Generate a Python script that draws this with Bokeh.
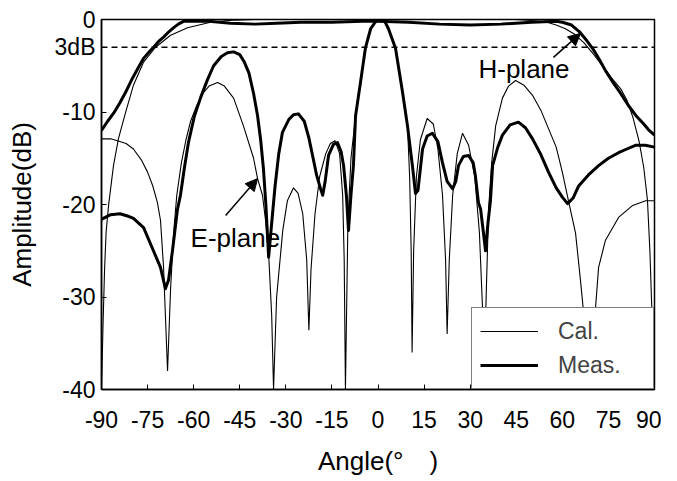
from bokeh.plotting import figure
from bokeh.models import Range1d, FixedTicker, Legend, LegendItem, Arrow, NormalHead, Span
from bokeh.core.properties import value
from bokeh.embed import file_html
from bokeh.resources import INLINE

# ---- data ----
x_ticks = [-90, -75, -60, -45, -30, -15, 0, 15, 30, 45, 60, 75, 90]
y_ticks = [0, -3, -10, -20, -30, -40]
y_tick_labels = ["0", "3dB", "-10", "-20", "-30", "-40"]

e_cal_ang = [-90, -87, -84.8, -82, -79.6, -77, -75, -73.3, -71.8, -70.8, -69.8, -68.5, -67.5, -66.5,
             -65.5, -64, -62.5, -61, -59, -57, -55, -52.2, -50, -47, -43.8, -40.5, -39.2, -37.6,
             -36.5, -35.5, -34.6, -34, -33, -31, -29.5, -27.5, -26, -24.5, -23.2, -22.5, -21.8,
             -20.5, -19, -17, -15.5, -14, -12.5, -11.5, -11, -10.6, -9.8, -8.8, -7.3, -5.7, -4.1,
             -2.4, -0.5, 0.8, 2, 3.4, 5.7, 8, 9.6, 10.3, 10.8, 11.1, 11.6, 12.5, 13.8, 16, 18,
             19.5, 21, 22, 22.5, 23.2, 24.3, 25.8, 27.5, 29.5, 31.5, 33, 34, 34.5, 35.2, 36, 37,
             38.3, 40.5, 42.5, 44.8, 47.5, 50.3, 53, 55.5, 58, 60, 62, 64.3, 66, 67.3, 69, 70.8,
             71.8, 74, 78.3, 82.9, 87.1, 90]
e_cal_db = [-12.9, -12.9, -13.1, -13.4, -14, -15.2, -16.5, -18, -19.8, -21.7, -26.8, -38, -29, -23,
            -19, -15.5, -13, -11, -9.3, -8, -7.2, -6.8, -7.2, -8.5, -11.5, -15, -17.2, -19,
            -22, -26, -32, -40, -30, -22.8, -19.6, -18.2, -18.8, -21, -26, -33.6, -27,
            -21, -17, -14.5, -13.4, -13.1, -14.5, -19, -26, -40, -22, -15, -10.4, -6.8, -3.1,
            -1, -0.1, 0, -0.2, -1, -3.1, -7.9, -11.5, -17, -25, -36, -25, -17, -13, -10.7, -11.3,
            -14, -19, -26, -34, -26, -19, -14.5, -12.3, -13.6, -17, -23, -31, -40, -30, -20.5, -15.5,
            -11.5, -8.5, -7.2, -6.6, -7.1, -8.2, -9.8, -11.8, -13.8, -16.5, -19.6, -23.1, -28.5, -33, -40, -31.2,
            -26.8, -23.9, -21.4, -20.1, -19.6, -19.6]

e_meas_ang = [-90, -87, -84, -81, -79.6, -76.3, -73.1, -70.8, -69.2, -68.2, -66.9, -65.3, -64.3, -63,
              -61.7, -59.8, -57.8, -55.5, -53.5, -51, -49, -47, -45, -43.5, -42, -40.5, -39.2, -38.2,
              -37.3, -36.5, -35.6, -34.6, -33.5, -32.3, -31.1, -29, -27.5, -25.9, -24, -22.5, -21.3,
              -20, -18.7, -18, -17.2, -16.1, -14.5, -13.2, -12, -11.2, -10.3, -9.6, -8.8, -8, -7.3,
              -5.7, -4.1, -2.4, -0.5, 1, 2.2, 3.4, 5.7, 8, 9.6, 11.2, 12.2, 13, 14.5, 16, 17.7, 19.5,
              21, 22.5, 24.3, 25.3, 26.2, 27.8, 29.5, 31, 31.7, 32.7, 33.4, 34.3, 35, 35.8, 36.6, 37.3,
              39, 40.5, 43, 45.7, 48, 50.3, 53, 55.5, 58, 60, 61.7, 63.5, 65.3, 68.5, 71.8, 75, 78.3,
              81, 83.8, 87, 90]
e_meas_db = [-21.6, -21.1, -21.0, -21.3, -21.5, -22.5, -25, -26.8, -29.1, -28.2, -25, -20.6, -19, -16,
             -13.3, -10.5, -8.5, -6.5, -5, -4, -3.6, -3.5, -3.8, -4.6, -5.8, -8, -10.4, -13,
             -16.1, -20, -25.7, -22, -18, -14.5, -12.2, -10.8, -10.3, -10.2, -11, -12.8, -14.7,
             -16.8, -18.3, -19, -17.5, -14.7, -13.5, -13.3, -14.3, -15.8, -19, -22.8, -19, -15.8, -10.4,
             -6.8, -3.1, -1, -0.1, 0, -0.2, -1, -3.1, -7.9, -11.5, -15.8, -18.8, -18.5, -14, -12.6, -12.3, -13.2,
             -15.5, -17.5, -18.3, -17.5, -15.8, -14.8, -14.7, -15.5, -16.9, -19.8, -20.5, -23, -25, -22, -19.6, -15.8,
             -13.8, -12.5, -11.4, -11.1, -11.7, -12.9, -14.6, -16.5, -18.2, -19.2, -19.9, -19.3, -18, -16.8, -15.8, -15, -14.4,
             -14, -13.6, -13.6, -13.8]

h_cal_ang = [-90, -89.5, -89, -88.5, -87.7, -86.1, -84.5, -82.2, -79.6, -76.3, -72.4, -67.5, -62,
             -54.5, -49, -40, -30, -20, -10, 0, 10, 20, 30, 40, 45, 50, 55, 58, 61, 64, 67, 70, 73,
             76, 79, 81, 83, 85, 86.5, 87.7, 88.5, 89.2, 90]
h_cal_db = [-40, -33, -27, -23, -20.1, -15.8, -12.9, -10.1, -7.1, -4.6, -3.0, -1.7, -0.9,
            -0.3, -0.1, 0, 0, 0, 0, 0, 0, 0, 0, 0, 0, -0.1, -0.3, -0.6, -1.0, -1.6, -2.5, -3.7, -5.0,
            -6.3, -7.5, -8.7, -10.6, -13.2, -16, -19.5, -25, -32, -40]

h_meas_ang = [-90, -88, -86, -84, -82.2, -80, -78, -76.3, -74.5, -73, -71.5, -69.8, -68, -66.6, -65,
              -63.3, -55, -48, -40, -33, -25, -15, -5, 0, 10, 20, 30, 40, 50, 58, 60, 63, 65.5, 68, 70,
              72, 74, 76.5, 79, 81.5, 84, 86.5, 88, 90]
h_meas_db = [-12, -11, -10.1, -9, -7.9, -6.4, -5.2, -4.2, -3.5, -3, -2.4, -1.9, -1.3, -0.9, -0.5,
             -0.2, -0.2, -0.4, -0.5, -0.4, -0.3, -0.3, -0.2, -0.2, -0.3, -0.5, -0.6, -0.5, -0.3, -0.2, -0.3, -0.6, -1.3, -2.3, -3.2,
             -4.3, -5.5, -6.8, -8.0, -9.3, -10.4, -11.3, -11.9, -12.5]

FONT = "Liberation Sans"

p = figure(width=661, height=481, output_backend="svg", toolbar_location=None,
           x_range=Range1d(-90, 90), y_range=Range1d(-40, 0),
           min_border_left=101, min_border_right=7, min_border_top=19, min_border_bottom=92)
p.background_fill_color = "white"
p.border_fill_color = "white"
p.outline_line_color = "black"
p.outline_line_width = 1.5
p.xgrid.visible = False
p.ygrid.visible = False

for ax in (p.xaxis[0], p.yaxis[0]):
    ax.axis_line_width = 1.5
    ax.major_tick_in = 5
    ax.major_tick_out = 0
    ax.minor_tick_line_color = None
    ax.major_label_text_font = FONT
    ax.major_label_text_font_size = "23px"
    ax.major_label_text_color = "black"
    ax.axis_label_text_font = FONT
    ax.axis_label_text_font_size = "26px"
    ax.axis_label_text_font_style = "normal"
    ax.axis_label_text_color = "black"

p.xaxis.ticker = FixedTicker(ticks=x_ticks)
p.xaxis.major_label_overrides = {t: str(t) for t in x_ticks}
p.xaxis.major_label_standoff = 21
p.xaxis.axis_label = "Angle(°　)"
p.xaxis.axis_label_standoff = 15

p.yaxis.ticker = FixedTicker(ticks=y_ticks)
p.yaxis.major_label_overrides = dict(zip(y_ticks, y_tick_labels))
p.yaxis.major_label_standoff = 6
p.yaxis.axis_label = "Amplitude(dB)"
p.yaxis.axis_label_standoff = 15

# annotation texts drawn under curves
p.text(x=[-61.0], y=[-23.6], text=["E-plane"], text_font=value(FONT), text_font_size="26px",
       text_baseline="middle", text_align="left", text_color="black")
p.text(x=[32.7], y=[-5.3], text=["H-plane"], text_font=value(FONT), text_font_size="26px",
       text_baseline="middle", text_align="left", text_color="black")

# 3 dB reference line
p.add_layout(Span(location=-3, dimension="width", line_color="black", line_width=1.3,
                  line_dash="6 4"))

r_ec = p.line(e_cal_ang, e_cal_db, line_color="black", line_width=1.1)
r_hc = p.line(h_cal_ang, h_cal_db, line_color="black", line_width=1.1)
r_em = p.line(e_meas_ang, e_meas_db, line_color="black", line_width=3, line_join="round")
r_hm = p.line(h_meas_ang, h_meas_db, line_color="black", line_width=3, line_join="round")

p.add_layout(Arrow(x_start=-49.6, y_start=-21.2, x_end=-39.2, y_end=-17.2, line_width=1.5,
                   end=NormalHead(size=12, fill_color="black", line_color="black")))
p.add_layout(Arrow(x_start=57.1, y_start=-4.1, x_end=65.9, y_end=-1.5, line_width=1.5,
                   end=NormalHead(size=12, fill_color="black", line_color="black")))

legend = Legend(items=[LegendItem(label="Cal.", renderers=[r_ec]),
                       LegendItem(label="Meas.", renderers=[r_em])],
                location="bottom_right", margin=0, padding=8, spacing=4,
                glyph_width=58, glyph_height=30, label_height=30, label_width=87,
                label_standoff=20, border_line_color="black", border_line_width=1.5,
                label_text_font=FONT, label_text_font_size="23px",
                background_fill_color="white", background_fill_alpha=1.0)
p.add_layout(legend)

open("out.html", "w").write(file_html(p, INLINE))
